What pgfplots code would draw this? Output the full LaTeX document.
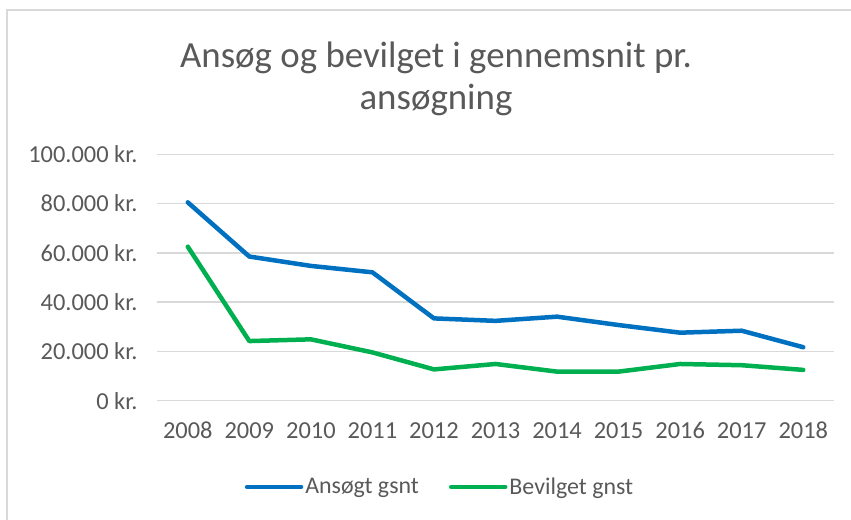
\documentclass[border=0pt]{standalone}
\usepackage{fontspec}
\setmainfont{Carlito}
\usepackage{pgfplots}
\pgfplotsset{compat=1.18}
\definecolor{txt}{HTML}{595959}
\definecolor{gridgray}{HTML}{D9D9D9}
\definecolor{ansblue}{HTML}{0070C0}
\definecolor{bevgreen}{HTML}{00B050}
\begin{document}
\begin{tikzpicture}[x=1bp,y=1bp]
\useasboundingbox (0,0) rectangle (851,520);
\draw[gridgray, line width=1.5bp] (7,0) -- (7,510) -- (851,510);
\node[txt, align=center, font=\fontsize{37}{42}\selectfont] at (436,441) {Ansøg og bevilget i gennemsnit pr.\\ansøgning};
\begin{axis}[
  at={(157bp,119.3bp)}, anchor=south west,
  scale only axis, width=677bp, height=246.4bp,
  xmin=2007.5, xmax=2018.5, ymin=0, ymax=100000,
  axis line style={draw=none},
  xtick={2008,2009,2010,2011,2012,2013,2014,2015,2016,2017,2018},
  xticklabels={2008,2009,2010,2011,2012,2013,2014,2015,2016,2017,2018},
  ytick={0,20000,40000,60000,80000,100000},
  yticklabels={0 kr.,20.000 kr.,40.000 kr.,60.000 kr.,80.000 kr.,100.000 kr.},
  scaled y ticks=false,
  tick style={draw=none}, major tick length=0pt,
  xmajorgrids=false, ymajorgrids=true,
  grid style={gridgray, line width=1.5bp},
  tick label style={txt, font=\fontsize{24.5}{28}\selectfont},
  xticklabel style={yshift=-18bp},
  yticklabel style={xshift=-16bp},
  legend style={at={(0.418,-0.35)}, anchor=center, draw=none, fill=none,
    legend columns=2, font=\fontsize{24}{28}\selectfont, text=txt,
    /tikz/every even column/.append style={column sep=28bp},
    inner sep=0pt},
  legend image code/.code={\draw[#1, line width=4.5bp] (0bp,0bp) -- (54bp,0bp);},
  every axis plot/.append style={line width=4.5bp, line join=round, line cap=round},
]
\addplot[ansblue, mark=none] coordinates {
  (2008,80500) (2009,58500) (2010,54700) (2011,52100) (2012,33400) (2013,32400)
  (2014,34100) (2015,30700) (2016,27600) (2017,28400) (2018,21700)};
\addlegendentry{Ansøgt gsnt}
\addplot[bevgreen, mark=none] coordinates {
  (2008,62500) (2009,24200) (2010,24900) (2011,19600) (2012,12700) (2013,14900)
  (2014,11800) (2015,11800) (2016,14900) (2017,14400) (2018,12500)};
\addlegendentry{Bevilget gnst}
\end{axis}
\end{tikzpicture}
\end{document}
